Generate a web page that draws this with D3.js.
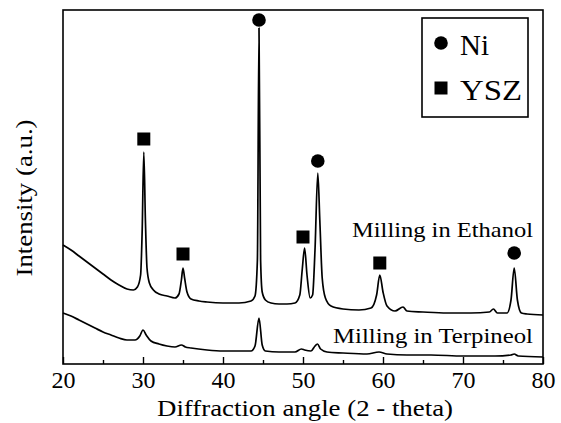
<!DOCTYPE html>
<html>
<head>
<meta charset="utf-8">
<script src="https://cdn.jsdelivr.net/npm/d3@7"></script>
<style>
  html, body { margin: 0; padding: 0; background: #fff; }
  svg { display: block; }
</style>
</head>
<body>
<svg id="chart" width="561" height="423"></svg>
<script>
// ---- Data (2-theta in degrees, intensity in arbitrary units) ----
const ethanolTheta = [20,21,22,23,24,25,26,27,28,28.8,29.3,29.7,29.9,30.1,30.3,30.5,30.8,31.3,32,33,34,34.5,34.8,35.0,35.2,35.5,36,37,38,40,42,43.5,44.0,44.3,44.5,44.7,44.9,45.3,46,47,48,49,49.6,49.9,50.2,50.5,50.9,51.2,51.5,51.85,52.1,52.4,52.8,53.5,55,57,58.5,59.2,59.6,60.0,60.5,61.5,62.5,63,65,68,71,73.3,73.8,74.3,75.5,76.0,76.4,76.8,77.3,78,80];
const ethanolIntensity = [119,114,108,102,96,90,84,79,75,74,77,89,134,212,144,96,81,74,70,68,66,70,84,96,86,72,65,63,62,61,61,63,68,104,336,104,72,64,61,60,60,61,69,94,116,89,66,69,114,191,144,86,66,58,55,54,56,69,89,72,58,53,57,53,52,51,51,52,55,51,51,64,96,64,51,50,49];

const terpTheta = [20,21,22,23,24,25,26,27,28,29,29.6,30.0,30.4,31,32,33,34,34.8,35.3,36,38,40,42,43.5,44.0,44.5,44.9,45.3,47,49,49.8,50.2,51.0,51.5,51.8,52.2,53,55,58,59.5,60.5,63,66,70,74,76.0,76.4,76.9,80];
const terpIntensity = [51,48,44,40,36,32,29,26,24,24,28,34,29,23,20,18,17,19,17,16,14,13,13,13,18,46,19,13,12,12,15,14,13,18,20,15,12,11,10,12,10,9,9,8,8,9,10,8,7];

const niTheta = [44.5, 51.85, 76.4];
const niMarker = [344, 203, 111];
const yszTheta = [30.1, 35.0, 50.0, 59.6];
const yszMarker = [225, 110, 127, 101];

const xTicks = [20, 30, 40, 50, 60, 70, 80];
const xMinorTicks = [25, 35, 45, 55, 65, 75];
const legendLabels = ["Ni", "YSZ"];
const curveLabels = ["Milling in Ethanol", "Milling in Terpineol"];

// ---- Layout ----
const FONT = '"Liberation Serif"';
const svg = d3.select("#chart");
const L = 63, R = 543, T = 10, B = 364;
const x = d3.scaleLinear().domain([20, 80]).range([L, R]);
const y = d3.scaleLinear().domain([0, 354]).range([B, T]);

const line = d3.line().x(d => x(d[0])).y(d => y(d[1])).curve(d3.curveMonotoneX);

const ethanol = d3.zip(ethanolTheta, ethanolIntensity);
const terp = d3.zip(terpTheta, terpIntensity);

svg.append("path").datum(ethanol).attr("d", line)
  .attr("fill", "none").attr("stroke", "#000").attr("stroke-width", 1.7).attr("stroke-linejoin", "round");
svg.append("path").datum(terp).attr("d", line)
  .attr("fill", "none").attr("stroke", "#000").attr("stroke-width", 1.7).attr("stroke-linejoin", "round");

// Frame
svg.append("rect").attr("x", L).attr("y", T).attr("width", R - L).attr("height", B - T)
  .attr("fill", "none").attr("stroke", "#000").attr("stroke-width", 1.6);

// X axis (ticks inward)
const xAxis = d3.axisBottom(x).tickValues(xTicks).tickSizeInner(-7).tickSizeOuter(0).tickPadding(7).tickFormat(d3.format("d"));
const gx = svg.append("g").attr("transform", `translate(0,${B})`).call(xAxis);
gx.attr("font-family", FONT).attr("font-size", 24);
gx.select(".domain").remove();
gx.selectAll(".tick line").attr("stroke", "#000").attr("stroke-width", 1.4);
gx.selectAll(".tick text").attr("font-family", FONT).attr("font-size", 24).attr("fill", "#000");

const xAxisMinor = d3.axisBottom(x).tickValues(xMinorTicks).tickSizeInner(-4).tickSizeOuter(0).tickFormat("");
const gxm = svg.append("g").attr("transform", `translate(0,${B})`).call(xAxisMinor);
gxm.select(".domain").remove();
gxm.selectAll(".tick line").attr("stroke", "#000").attr("stroke-width", 1.4);

// Markers
svg.selectAll("circle.ni").data(d3.zip(niTheta, niMarker)).join("circle")
  .attr("class", "ni").attr("cx", d => x(d[0])).attr("cy", d => y(d[1])).attr("r", 6.8).attr("fill", "#000");
const sq = 13;
svg.selectAll("rect.ysz").data(d3.zip(yszTheta, yszMarker)).join("rect")
  .attr("class", "ysz").attr("x", d => x(d[0]) - sq / 2).attr("y", d => y(d[1]) - sq / 2)
  .attr("width", sq).attr("height", sq).attr("fill", "#000");

// Curve labels
svg.append("text").attr("x", 533).attr("y", 237).attr("text-anchor", "end").attr("font-family", FONT)
  .attr("font-size", 22).attr("textLength", 181).attr("lengthAdjust", "spacingAndGlyphs").text(curveLabels[0]);
svg.append("text").attr("x", 533).attr("y", 343).attr("text-anchor", "end").attr("font-family", FONT)
  .attr("font-size", 22).attr("textLength", 200).attr("lengthAdjust", "spacingAndGlyphs").text(curveLabels[1]);

// Legend
svg.append("rect").attr("x", 422).attr("y", 18).attr("width", 106).attr("height", 99)
  .attr("fill", "#fff").attr("stroke", "#000").attr("stroke-width", 1.6);
svg.append("circle").attr("cx", 441).attr("cy", 43).attr("r", 6.8).attr("fill", "#000");
svg.append("rect").attr("x", 441 - 6.5).attr("y", 88 - 6.5).attr("width", 13).attr("height", 13).attr("fill", "#000");
svg.append("text").attr("x", 460).attr("y", 55).attr("font-family", FONT).attr("font-size", 29).text(legendLabels[0]);
svg.append("text").attr("x", 460).attr("y", 100).attr("font-family", FONT).attr("font-size", 29)
  .attr("textLength", 62).attr("lengthAdjust", "spacingAndGlyphs").text(legendLabels[1]);

// Axis titles
svg.append("text").attr("x", 305).attr("y", 416).attr("text-anchor", "middle").attr("font-family", FONT)
  .attr("font-size", 24).attr("textLength", 296).attr("lengthAdjust", "spacingAndGlyphs")
  .text("Diffraction angle (2 - theta)");
svg.append("text").attr("transform", "translate(32,198) rotate(-90)").attr("text-anchor", "middle").attr("font-family", FONT)
  .attr("font-size", 24).attr("textLength", 157).attr("lengthAdjust", "spacingAndGlyphs")
  .text("Intensity (a.u.)");
</script>
</body>
</html>
